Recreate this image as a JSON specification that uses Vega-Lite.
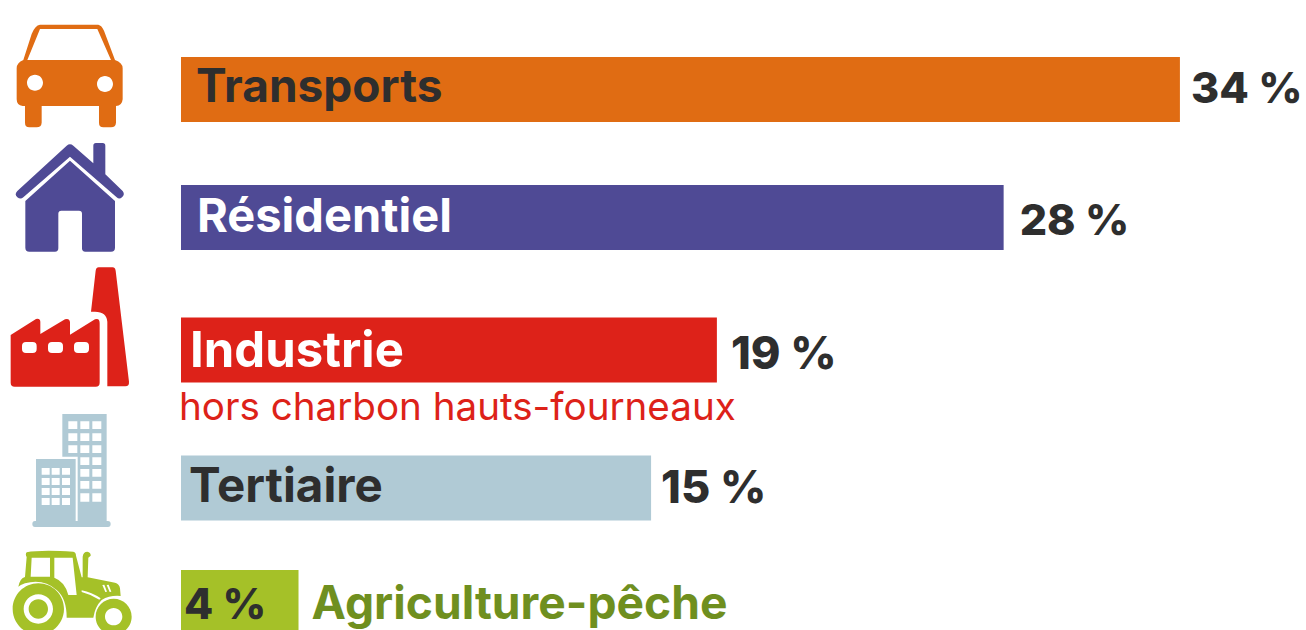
{"$schema":"https://vega.github.io/schema/vega-lite/v6.json","width":1306,"height":630,"padding":0,"autosize":"none","background":"#ffffff","config":{"view":{"stroke":null}},
"data":{"values":[
{"rank":1,"name":"Transports","share":34,"label":"34 %","note":""},
{"rank":2,"name":"Résidentiel","share":28,"label":"28 %","note":""},
{"rank":3,"name":"Industrie","share":18.24,"label":"19 %","note":"hors charbon hauts-fourneaux"},
{"rank":4,"name":"Tertiaire","share":16,"label":"15 %","note":""},
{"rank":5,"name":"Agriculture-pêche","share":4,"label":"4 %","note":""}]},
"encoding":{"y":{"field":"rank","type":"quantitative","axis":null,"scale":{"domain":[1,2,3,4,5],"range":[89.5,217.5,350,488,602.5],"padding":0,"nice":false,"zero":false}}},
"layer":[
{"mark":{"type":"bar","orient":"horizontal","size":65},"encoding":{"x":{"field":"share","type":"quantitative","axis":null,"stack":null,"scale":{"domain":[-6.1606,38.2914],"padding":0,"nice":false,"zero":false}},"x2":{"datum":0},"color":{"field":"name","type":"nominal","legend":null,"scale":{"domain":["Transports","Résidentiel","Industrie","Tertiaire","Agriculture-pêche"],"range":["#e06c13","#4f4a95","#dd2219","#b0cad5","#a5c128"]}}}},
{"transform":[{"filter":"datum.rank==1"}],"mark":{"type":"point","filled":true,"opacity":1,"size":0.4444,"fill":"#e06c13","xOffset":-181,"yOffset":-79.5,"shape":"M120 44L295 44Q305 46 312 62L345 150Q368 158 368 175L368 268Q366 288 348 288L348 338Q347 352 333 352L310 352Q297 352 297 338L297 288L125 288L125 338Q124 352 110 352L88 352Q75 352 75 338L75 288L68 288Q50 286 50 268L50 175Q50 158 70 150L95 72Q105 46 120 44ZM120 57L82 150L333 150L292 57ZM81 218A24 24 0 1 0 129 218A24 24 0 1 0 81 218ZM291 222A24 24 0 1 0 339 222A24 24 0 1 0 291 222Z"},"encoding":{"x":{"datum":0,"type":"quantitative"}}},
{"transform":[{"filter":"datum.rank==2"}],"mark":{"type":"point","filled":true,"opacity":1,"size":0.4444,"fill":"#4f4a95","xOffset":-181,"yOffset":-82.5,"shape":"M200 32Q210 24 220 32L280 85L280 32Q280 24 288 24L308 24Q316 24 316 32L316 118L368 168Q376 178 366 187Q358 194 350 187L210 65L70 187Q62 194 52 187Q42 178 52 168ZM210 77L345 198L345 338Q345 350 333 350L256 350Q246 350 246 340L246 236Q246 227 237 227L184 227Q175 227 175 236L175 340Q175 350 165 350L88 350Q76 350 76 338L76 198Z"},"encoding":{"x":{"datum":0,"type":"quantitative"}}},
{"transform":[{"filter":"datum.rank==3"}],"mark":{"type":"point","filled":true,"opacity":1,"size":0.4444,"fill":"#dd2219","xOffset":-181,"yOffset":-90,"shape":"M296 22L338 22Q345 22 347 32L387 365Q388 379 376 379L322 379L322 185Q320 155 285 155L273 155L287 32Q289 22 296 22ZM32 225L108 177Q120 174 121 185L121 222L195 178Q208 174 210 186L210 224L285 178Q299 173 299 190L299 368Q299 380 287 380L44 380Q32 380 32 368ZM78 246Q66 246 66 258L66 267Q66 279 78 279L98 279Q110 279 110 267L110 258Q110 246 98 246ZM156 246Q144 246 144 258L144 267Q144 279 156 279L177 279Q189 279 189 267L189 258Q189 246 177 246ZM234 246Q222 246 222 258L222 267Q222 279 234 279L255 279Q267 279 267 267L267 258Q267 246 255 246Z"},"encoding":{"x":{"datum":0,"type":"quantitative"}}},
{"transform":[{"filter":"datum.rank==4"}],"mark":{"type":"point","filled":true,"opacity":1,"size":0.4444,"fill":"#b0cad5","xOffset":-181,"yOffset":-83,"shape":"M187 27L320 27L320 348L233 348L233 155L187 155ZM108 162L227 162L227 348L108 348ZM105 348L324 348Q332 348 332 357Q332 366 324 366L105 366Q97 366 97 357Q97 348 105 348ZM205 49v23h27v-23zM241 49v23h27v-23zM277 49v23h27v-23zM205 85v23h27v-23zM241 85v23h27v-23zM277 85v23h27v-23zM205 121v23h27v-23zM241 121v23h27v-23zM277 121v23h27v-23zM241 157v23h27v-23zM277 157v23h27v-23zM241 192v23h27v-23zM277 192v23h27v-23zM241 228v23h27v-23zM277 228v23h27v-23zM241 265v25h27v-25zM277 265v25h27v-25zM125 189v20h24v-20zM155 189v20h24v-20zM186 189v20h24v-20zM125 219v21h24v-21zM155 219v21h24v-21zM186 219v21h24v-21zM125 249v21h24v-21zM155 249v21h24v-21zM186 249v21h24v-21zM125 279v21h24v-21zM155 279v21h24v-21zM186 279v21h24v-21z"},"encoding":{"x":{"datum":0,"type":"quantitative"}}},
{"transform":[{"filter":"datum.rank==5"}],"mark":{"type":"point","filled":true,"opacity":1,"size":0.4444,"fill":"#a5c128","xOffset":-181,"yOffset":-67.5,"shape":"M80 52Q120 44 220 50Q228 52 228 62L245 127L248 127L248 65Q250 50 262 50Q273 52 272 62L265 68L263 127L345 143Q358 146 360 160L362 183Q330 180 305 195Q285 215 280 248L200 248Q200 190 170 165Q130 130 75 145Q60 150 55 155Q60 130 75 126L80 66Q75 58 80 52ZM95 68L92 125L150 125L150 68ZM163 68L163 128Q195 140 205 180L230 180L218 68ZM245 166L245 171Q272 178 298 194L302 190Q275 172 245 166ZM307 150L316 171L321 170L313 149ZM320 150L329 171L334 170L326 149ZM38 222A77 77 0 1 1 192 222A77 77 0 1 1 38 222ZM71 222A44 44 0 1 0 159 222A44 44 0 1 0 71 222ZM86 222A29 29 0 1 1 144 222A29 29 0 1 1 86 222ZM287 245A54 54 0 1 1 395 245A54 54 0 1 1 287 245ZM315 245A26 26 0 1 0 367 245A26 26 0 1 0 315 245Z"},"encoding":{"x":{"datum":0,"type":"quantitative"}}},
{"transform":[{"filter":"datum.rank==1"}],"mark":{"type":"text","align":"left","baseline":"middle","font":"Inter","fontWeight":700,"fontSize":46,"fill":"#2e2e2e","xOffset":15,"yOffset":-2},"encoding":{"x":{"datum":0,"type":"quantitative"},"text":{"field":"name"}}},
{"transform":[{"filter":"datum.rank==2"}],"mark":{"type":"text","align":"left","baseline":"middle","font":"Inter","fontWeight":700,"fontSize":47,"fill":"#ffffff","xOffset":16,"yOffset":0},"encoding":{"x":{"datum":0,"type":"quantitative"},"text":{"field":"name"}}},
{"transform":[{"filter":"datum.rank==3"}],"mark":{"type":"text","align":"left","baseline":"middle","font":"Inter","fontWeight":700,"fontSize":49,"fill":"#ffffff","xOffset":9,"yOffset":2},"encoding":{"x":{"datum":0,"type":"quantitative"},"text":{"field":"name"}}},
{"transform":[{"filter":"datum.rank==4"}],"mark":{"type":"text","align":"left","baseline":"middle","font":"Inter","fontWeight":700,"fontSize":47.5,"fill":"#2e2e2e","xOffset":8,"yOffset":0},"encoding":{"x":{"datum":0,"type":"quantitative"},"text":{"field":"name"}}},
{"transform":[{"filter":"datum.rank==5"}],"mark":{"type":"text","align":"left","baseline":"middle","font":"Inter","fontWeight":700,"fontSize":46.2,"fill":"#6f8f1f","xOffset":13,"yOffset":2},"encoding":{"x":{"field":"share","type":"quantitative"},"text":{"field":"name"}}},
{"transform":[{"filter":"datum.rank==3"}],"mark":{"type":"text","align":"left","baseline":"middle","font":"Inter","fontSize":38.6,"fill":"#dd2219","xOffset":-2,"yOffset":58},"encoding":{"x":{"datum":0,"type":"quantitative"},"text":{"field":"note"}}},
{"transform":[{"filter":"datum.rank==1"}],"mark":{"type":"text","align":"left","baseline":"middle","font":"Inter","fontWeight":800,"fontSize":43,"fill":"#2e2e2e","xOffset":11,"yOffset":0},"encoding":{"x":{"field":"share","type":"quantitative"},"text":{"field":"label"}}},
{"transform":[{"filter":"datum.rank==2"}],"mark":{"type":"text","align":"left","baseline":"middle","font":"Inter","fontWeight":800,"fontSize":43,"fill":"#2e2e2e","xOffset":16,"yOffset":4},"encoding":{"x":{"field":"share","type":"quantitative"},"text":{"field":"label"}}},
{"transform":[{"filter":"datum.rank==3"}],"mark":{"type":"text","align":"left","baseline":"middle","font":"Inter","fontWeight":800,"fontSize":45,"fill":"#2e2e2e","xOffset":14,"yOffset":5},"encoding":{"x":{"field":"share","type":"quantitative"},"text":{"field":"label"}}},
{"transform":[{"filter":"datum.rank==4"}],"mark":{"type":"text","align":"left","baseline":"middle","font":"Inter","fontWeight":800,"fontSize":45,"fill":"#2e2e2e","xOffset":10,"yOffset":1},"encoding":{"x":{"field":"share","type":"quantitative"},"text":{"field":"label"}}},
{"transform":[{"filter":"datum.rank==5"}],"mark":{"type":"text","align":"left","baseline":"middle","font":"Inter","fontWeight":800,"fontSize":42.5,"fill":"#2e2e2e","xOffset":3,"yOffset":3},"encoding":{"x":{"datum":0,"type":"quantitative"},"text":{"field":"label"}}}
]}
